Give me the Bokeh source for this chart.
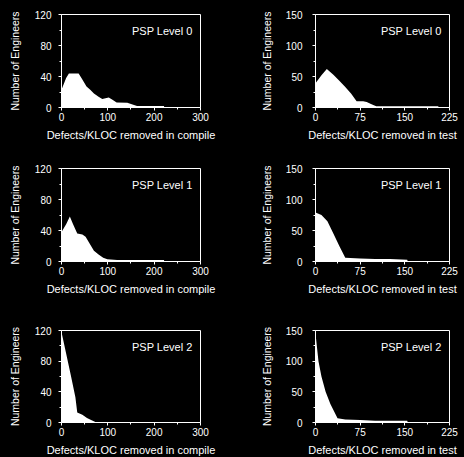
from bokeh.plotting import figure
from bokeh.layouts import gridplot
from bokeh.models import Range1d, FixedTicker, Label, AllLabels
from bokeh.embed import file_html
from bokeh.resources import INLINE

# ---- data ----
compile_x_ticks = [0, 100, 200, 300]
compile_x_minor = [50, 150, 250]
compile_y_ticks = [0, 40, 80, 120]
compile_y_minor = [20, 60, 100]
test_x_ticks = [0, 75, 150, 225]
test_x_minor = [37.5, 112.5, 187.5]
test_y_ticks = [0, 50, 100, 150]
test_y_minor = [25, 75, 125]

compile_l0_x = [0, 10, 16, 25, 37, 45, 54, 62, 70, 80, 88, 95, 102, 110, 119, 142, 163, 190, 221, 222]
compile_l0_y = [23, 38, 44, 44, 44, 36, 27, 23, 18, 14, 11, 12, 13, 10, 6.5, 6, 2, 2, 2, 0]

test_l0_x = [0, 10, 19, 30, 40, 50, 60, 69, 80, 86, 95, 102, 125, 150, 175, 206, 207]
test_l0_y = [39, 52, 62, 53, 43, 33, 22, 10, 10, 9, 5, 2, 2, 2, 2, 2, 0]

compile_l1_x = [0, 10, 18, 25, 34, 45, 52, 60, 70, 80, 90, 99, 120, 150, 180, 221, 222]
compile_l1_y = [38, 48, 58, 48, 36, 35, 32, 24, 14, 9, 5, 3, 2, 2, 2, 2, 0]

test_l1_x = [0, 10, 20, 30, 40, 50, 75, 100, 125, 154, 155]
test_l1_y = [79, 75, 65, 45, 25, 6, 5, 4, 4, 3, 0]

compile_l2_x = [0, 10, 20, 30, 34, 45, 55, 65, 72, 73]
compile_l2_y = [118, 90, 62, 33, 13, 10, 6, 3, 1, 0]

test_l2_x = [0, 5, 10, 17, 25, 37, 50, 75, 100, 125, 154, 155]
test_l2_y = [145, 100, 75, 50, 30, 7, 5, 4, 3, 3, 3, 0]

levels = ["PSP Level 0", "PSP Level 1", "PSP Level 2"]
compile_label = "Defects/KLOC removed in compile"
test_label = "Defects/KLOC removed in test"
y_label = "Number of Engineers"

FONT = "Liberation Sans"

# (top border, frame height, bottom border) per row
row_borders = [(14, 93, 53), (8, 93, 61), (8, 92, 35)]


def panel(xs, ys, xmax, ymax, xt, xm, yt, ym, xlabel, level, col, row):
    top, fh, bottom = row_borders[row]
    if col == 0:
        left, fw, right = 61, 139, 32
        ystand, ylab_stand = 7, 11
    else:
        left, fw, right = 83, 134, 15
        ystand, ylab_stand = 10, 10
    p = figure(frame_width=fw, frame_height=fh,
               min_border_left=left, min_border_right=right,
               min_border_top=top, min_border_bottom=bottom,
               x_range=Range1d(0, xmax + 0.02), y_range=Range1d(0, ymax + 0.02),
               output_backend="svg", toolbar_location=None)
    p.background_fill_color = "black"
    p.border_fill_color = "black"
    p.outline_line_color = "white"
    p.outline_line_width = 1
    p.xgrid.visible = False
    p.ygrid.visible = False
    p.varea(x=xs, y1=[0] * len(xs), y2=ys, fill_color="white", fill_alpha=1.0)

    xa = p.xaxis[0]
    xa.ticker = FixedTicker(ticks=xt, minor_ticks=xm)
    ya = p.yaxis[0]
    ya.ticker = FixedTicker(ticks=yt, minor_ticks=ym)
    for ax in (xa, ya):
        ax.major_label_policy = AllLabels()
        ax.axis_line_color = "white"
        ax.major_tick_line_color = "white"
        ax.minor_tick_line_color = "white"
        ax.major_tick_in = 0
        ax.minor_tick_in = 0
        ax.major_tick_out = 3
        ax.minor_tick_out = 2
        ax.major_label_text_color = "white"
        ax.major_label_text_font = FONT
        ax.major_label_text_font_size = "10px"
        ax.axis_label_text_color = "white"
        ax.axis_label_text_font = FONT
        ax.axis_label_text_font_style = "normal"
    xa.axis_label = xlabel
    xa.axis_label_text_font_size = "11px"
    xa.major_label_standoff = 2
    xa.axis_label_standoff = 5
    ya.axis_label = y_label
    ya.axis_label_text_font_size = "10.5px"
    ya.major_label_standoff = ystand
    ya.axis_label_standoff = ylab_stand

    p.add_layout(Label(x=xmax, y=ymax, x_offset=-8, y_offset=-10, text=level,
                       text_align="right", text_baseline="top",
                       text_color="white", text_font=FONT,
                       text_font_size="11px"))
    return p


p1 = panel(compile_l0_x, compile_l0_y, 300, 120, compile_x_ticks, compile_x_minor,
           compile_y_ticks, compile_y_minor, compile_label, levels[0], 0, 0)
p2 = panel(test_l0_x, test_l0_y, 225, 150, test_x_ticks, test_x_minor,
           test_y_ticks, test_y_minor, test_label, levels[0], 1, 0)
p3 = panel(compile_l1_x, compile_l1_y, 300, 120, compile_x_ticks, compile_x_minor,
           compile_y_ticks, compile_y_minor, compile_label, levels[1], 0, 1)
p4 = panel(test_l1_x, test_l1_y, 225, 150, test_x_ticks, test_x_minor,
           test_y_ticks, test_y_minor, test_label, levels[1], 1, 1)
p5 = panel(compile_l2_x, compile_l2_y, 300, 120, compile_x_ticks, compile_x_minor,
           compile_y_ticks, compile_y_minor, compile_label, levels[2], 0, 2)
p6 = panel(test_l2_x, test_l2_y, 225, 150, test_x_ticks, test_x_minor,
           test_y_ticks, test_y_minor, test_label, levels[2], 1, 2)

grid = gridplot([[p1, p2], [p3, p4], [p5, p6]], toolbar_location=None)
grid.styles = {"background-color": "black"}

open("out.html", "w").write(file_html(grid, INLINE))
